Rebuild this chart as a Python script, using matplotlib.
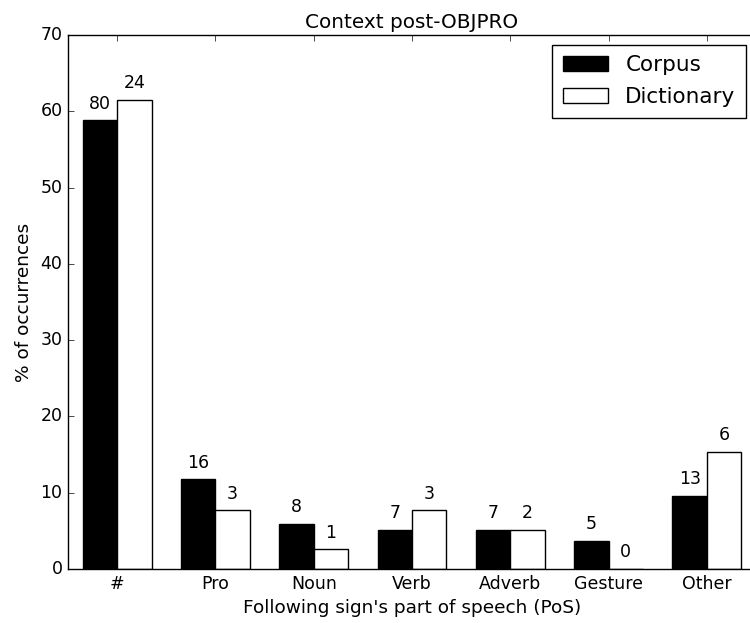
"""Grouped bar chart: part of speech following OBJPRO, corpus vs dictionary."""
import matplotlib
matplotlib.use("Agg")
import matplotlib.pyplot as plt
import numpy as np

plt.style.use("classic")
plt.rcParams["font.family"] = "DejaVu Sans"

# counts; bar heights are their share of the total
categories = ["#", "Pro", "Noun", "Verb", "Adverb", "Gesture", "Other"]
corpus_counts = [80, 16, 8, 7, 7, 5, 13]
dictionary_counts = [24, 3, 1, 3, 2, 0, 6]

corpus_pct = 100.0 * np.array(corpus_counts) / sum(corpus_counts)
dictionary_pct = 100.0 * np.array(dictionary_counts) / sum(dictionary_counts)

fig = plt.figure(figsize=(7.5, 6.23), dpi=100)
# the original figure was cropped on the right, so the axes run a little past the edge
ax = fig.add_axes([0.0907, 0.0867, 0.9173, 0.8571])

ind = np.arange(len(categories))
width = 0.35
bars_c = ax.bar(ind - width, corpus_pct, width, align="edge",
                color="black", edgecolor="black", label="Corpus")
bars_d = ax.bar(ind, dictionary_pct, width, align="edge",
                color="white", edgecolor="black", label="Dictionary")

# count labels above each bar
for bars, counts in ((bars_c, corpus_counts), (bars_d, dictionary_counts)):
    for rect, n in zip(bars, counts):
        ax.text(rect.get_x() + rect.get_width() / 2.0, rect.get_height() + 1,
                str(n), ha="center", va="bottom", fontsize=12.5)

ax.set_xticks(ind)
ax.set_xticklabels(categories, fontsize=12.5)
ax.set_xlim(-0.5, 6.5)
ax.set_ylim(0, 70)
ax.tick_params(axis="y", labelsize=12.5)
ax.set_xlabel("Following sign's part of speech (PoS)", fontsize=13.3)
ax.set_ylabel("% of occurrences", fontsize=13.3)
ax.set_title("Context post-OBJPRO", fontsize=14.4)

leg = ax.legend(loc="upper right", fontsize=15.5, handlelength=2.1,
                borderpad=0.5, labelspacing=0.55, borderaxespad=0.45)
leg.get_frame().set_edgecolor("black")

fig.savefig("out.png", dpi=100)
